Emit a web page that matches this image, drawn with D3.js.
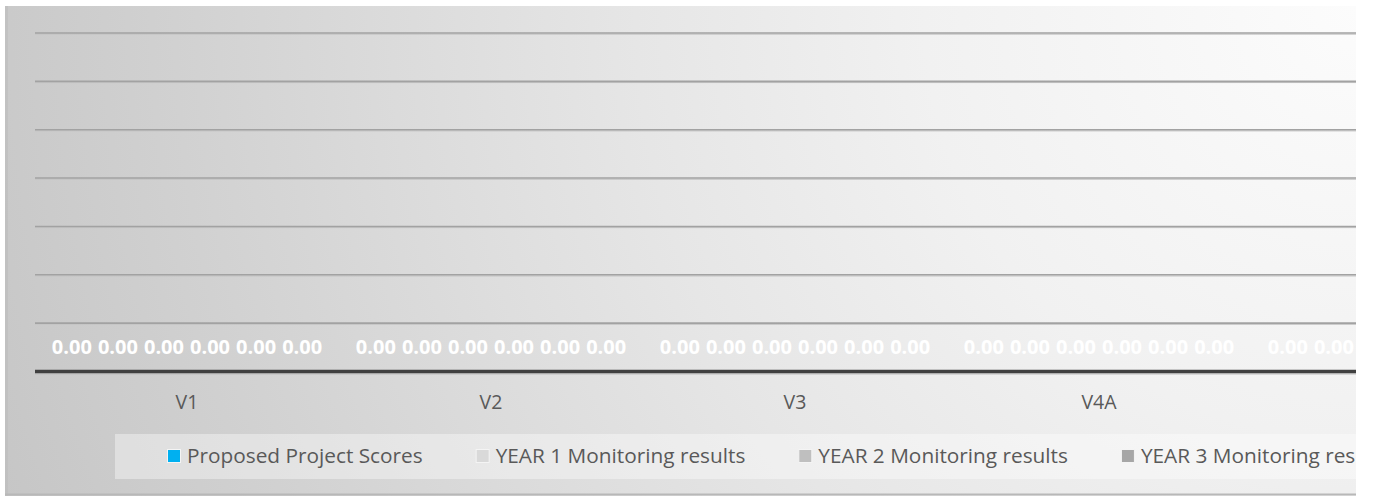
<!DOCTYPE html>
<html>
<head>
<meta charset="utf-8">
<script src="https://cdn.jsdelivr.net/npm/d3@7"></script>
<style>
  html, body { margin: 0; padding: 0; background: #ffffff; }
  svg { display: block; }
</style>
</head>
<body>
<svg id="chart" width="1373" height="496"></svg>
<script>
// Categories along the x axis
const categories = ["V1", "V2", "V3", "V4A", "V4B"];

// Series shown for each category
const seriesNames = [
  "Proposed Project Scores",
  "YEAR 1 Monitoring results",
  "YEAR 2 Monitoring results",
  "YEAR 3 Monitoring results",
  "YEAR 4 Monitoring results",
  "YEAR 5 Monitoring results"
];

// Values per series, one per category
const proposedScores = [0, 0, 0, 0, 0];
const year1Results   = [0, 0, 0, 0, 0];
const year2Results   = [0, 0, 0, 0, 0];
const year3Results   = [0, 0, 0, 0, 0];
const year4Results   = [0, 0, 0, 0, 0];
const year5Results   = [0, 0, 0, 0, 0];

// Value-axis ticks (gridlines)
const yTicks = [0, 0.1, 0.2, 0.3, 0.4, 0.5, 0.6, 0.7];

const seriesValues = [proposedScores, year1Results, year2Results, year3Results, year4Results, year5Results];
const seriesColors = ["#00b0f0", "#d9d9d9", "#bfbfbf", "#a6a6a6", "#7f7f7f", "#595959"];

const svg = d3.select("#chart");

// Chart area frame
const area = { x: 5, y: 6, w: 1351, h: 490 };
const plot = { left: 35, top: 33, bottom: 371.5, catWidth: 304 };
const areaRight = area.x + area.w;

const defs = svg.append("defs");
// Background: light towards the top-right corner, darker towards the left
const grad = defs.append("radialGradient")
  .attr("id", "bg")
  .attr("gradientUnits", "userSpaceOnUse")
  .attr("cx", areaRight).attr("cy", area.y)
  .attr("fx", areaRight).attr("fy", area.y)
  .attr("r", 1440);
[[0, "#fcfcfc"], [0.3, "#f1f1f1"], [0.5, "#e6e6e6"], [0.67, "#dbdbdb"], [0.82, "#d1d1d1"], [1, "#c6c6c6"]]
  .forEach(([o, c]) => grad.append("stop").attr("offset", o).attr("stop-color", c));

defs.append("clipPath").attr("id", "areaClip")
  .append("rect")
  .attr("x", area.x).attr("y", area.y)
  .attr("width", area.w).attr("height", area.h);

const root = svg.append("g").attr("clip-path", "url(#areaClip)");

root.append("rect")
  .attr("x", area.x).attr("y", area.y)
  .attr("width", area.w).attr("height", area.h)
  .attr("fill", "url(#bg)");

// darker left edge of the chart area
root.append("rect")
  .attr("x", area.x).attr("y", area.y)
  .attr("width", 3).attr("height", area.h)
  .attr("fill", "#bcbcbc").attr("opacity", 0.6);

// Scales
const x0 = d3.scaleBand()
  .domain(categories)
  .range([plot.left, plot.left + plot.catWidth * categories.length])
  .paddingInner(0).paddingOuter(0);

const x1 = d3.scaleBand()
  .domain(d3.range(seriesNames.length))
  .range([0, x0.bandwidth()])
  .paddingInner(0).paddingOuter(0.3);

const y = d3.scaleLinear()
  .domain([0, d3.max(yTicks)])
  .range([plot.bottom, plot.top]);

const gridRight = areaRight + 20;

// Gridlines
const grid = root.append("g");
yTicks.filter(t => t > 0).forEach(t => {
  grid.append("line")
    .attr("x1", plot.left).attr("x2", gridRight)
    .attr("y1", y(t) + 1.2).attr("y2", y(t) + 1.2)
    .attr("stroke", "#c4c4c4").attr("stroke-width", 1);
  grid.append("line")
    .attr("x1", plot.left).attr("x2", gridRight)
    .attr("y1", y(t)).attr("y2", y(t))
    .attr("stroke", "#a2a2a2").attr("stroke-width", 1.6);
});

// Bars
const groups = root.append("g")
  .selectAll("g")
  .data(categories)
  .join("g")
  .attr("transform", d => `translate(${x0(d)},0)`);

groups.selectAll("rect")
  .data((c, ci) => seriesValues.map((vals, si) => ({ si, v: vals[ci] })))
  .join("rect")
  .attr("x", d => x1(d.si))
  .attr("width", x1.bandwidth())
  .attr("y", d => y(Math.max(0, d.v)))
  .attr("height", d => Math.abs(y(d.v) - y(0)))
  .attr("fill", d => seriesColors[d.si]);

// Data labels
groups.selectAll("text")
  .data((c, ci) => seriesValues.map((vals, si) => ({ si, v: vals[ci] })))
  .join("text")
  .attr("x", d => x1(d.si) + x1.bandwidth() / 2)
  .attr("y", d => y(d.v) - 17.5)
  .attr("text-anchor", "middle")
  .attr("font-family", "'Open Sans', sans-serif")
  .attr("font-weight", "bold")
  .attr("font-size", 20)
  .attr("fill", "#ffffff")
  .text(d => d3.format(".2f")(d.v));

// Category axis line
root.append("line")
  .attr("x1", plot.left).attr("x2", gridRight)
  .attr("y1", y(0) + 2.5).attr("y2", y(0) + 2.5)
  .attr("stroke", "#bdbdbd").attr("stroke-width", 1);
root.append("line")
  .attr("x1", plot.left).attr("x2", gridRight)
  .attr("y1", y(0)).attr("y2", y(0))
  .attr("stroke", "#404040").attr("stroke-width", 3.6);

// Category labels
const xAxis = d3.axisBottom(x0).tickSize(0).tickPadding(0);
const xg = root.append("g")
  .attr("transform", `translate(0,${y(0)})`)
  .call(xAxis);
xg.select(".domain").remove();
xg.selectAll("text")
  .attr("dy", null)
  .attr("y", 37.5)
  .attr("font-family", "'Open Sans', sans-serif")
  .attr("font-size", 19.5)
  .attr("fill", "#595959");

// Legend
const legendBox = { x: 115, y: 434, h: 45 };
root.append("rect")
  .attr("x", legendBox.x).attr("y", legendBox.y)
  .attr("width", areaRight - legendBox.x + 20).attr("height", legendBox.h)
  .attr("fill", "#ffffff").attr("opacity", 0.38);

const legend = root.append("g");
let lx = 167;
seriesNames.forEach((name, i) => {
  const item = legend.append("g").attr("transform", `translate(${lx},0)`);
  item.append("rect")
    .attr("x", 0.5).attr("y", 449.5)
    .attr("width", 13).attr("height", 13)
    .attr("fill", seriesColors[i])
    .attr("stroke", "#f4f4f4").attr("stroke-width", 1);
  const t = item.append("text")
    .attr("x", 20).attr("y", 463)
    .attr("font-family", "'Open Sans', sans-serif")
    .attr("font-size", 20.8)
    .attr("fill", "#595959")
    .text(name);
  lx += 20 + t.node().getComputedTextLength() + 53;
});

// Texts that start beyond the chart area's right edge are never visible
root.selectAll("text").each(function () {
  const b = this.getBBox();
  const m = this.getScreenCTM();
  if (m && b.x * m.a + m.e >= areaRight) d3.select(this).remove();
});

// Bottom edge of the chart area
root.append("line")
  .attr("x1", area.x).attr("x2", areaRight)
  .attr("y1", 494.5).attr("y2", 494.5)
  .attr("stroke", "#b8b8b8").attr("stroke-width", 2);
</script>
</body>
</html>
